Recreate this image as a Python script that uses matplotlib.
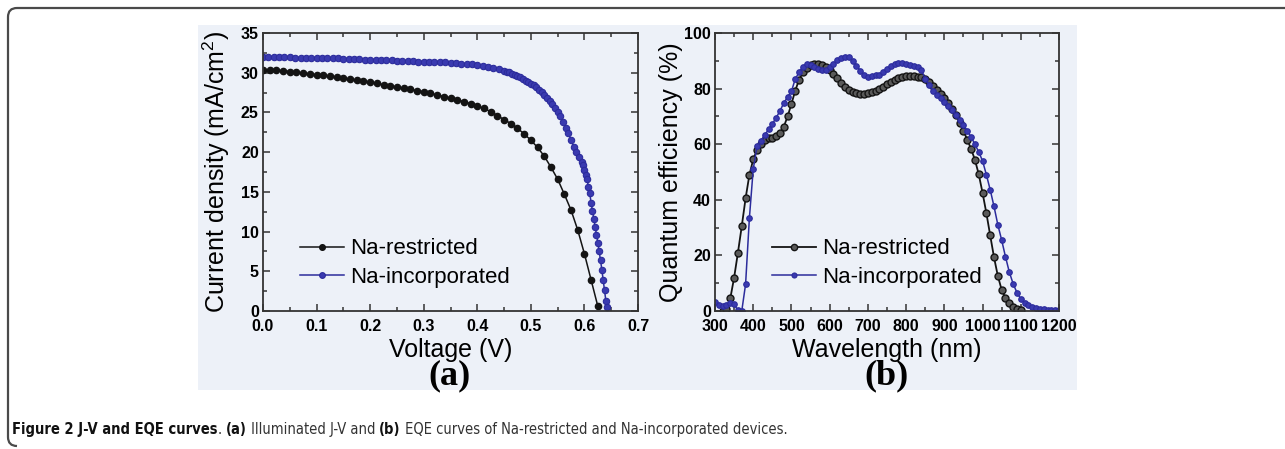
import matplotlib
matplotlib.use('Agg')
import matplotlib.pyplot as plt
from matplotlib.patches import PathPatch, Rectangle
from matplotlib.path import Path
from matplotlib.text import Annotation
from matplotlib.ticker import MultipleLocator

plt.rcParams['font.family'] = ['Liberation Sans', 'DejaVu Sans']
plt.rcParams['mathtext.default'] = 'regular'

# -- J-V data ---------------------------------
v_restricted = [0.0, 0.0125, 0.025, 0.0375, 0.05, 0.0625, 0.075, 0.0875, 0.1, 0.1125,
                0.125, 0.1375, 0.15, 0.1625, 0.175, 0.1875, 0.2, 0.2125, 0.225, 0.2375,
                0.25, 0.2625, 0.275, 0.2875, 0.3, 0.3125, 0.325, 0.3375, 0.35, 0.3625,
                0.375, 0.3875, 0.4, 0.4125, 0.425, 0.4375, 0.45, 0.4625, 0.475, 0.4875,
                0.5, 0.5125, 0.525, 0.5375, 0.55, 0.5625, 0.575, 0.5875, 0.6, 0.6125, 0.625]
j_restricted = [30.4, 30.35, 30.3, 30.25, 30.15, 30.05, 29.95, 29.85, 29.75, 29.65,
                29.55, 29.45, 29.3, 29.2, 29.05, 28.95, 28.8, 28.65, 28.5, 28.35,
                28.2, 28.05, 27.9, 27.75, 27.6, 27.4, 27.2, 27.0, 26.8, 26.6,
                26.35, 26.1, 25.8, 25.5, 25.1, 24.6, 24.1, 23.6, 23.0, 22.3,
                21.5, 20.6, 19.5, 18.1, 16.6, 14.7, 12.7, 10.2, 7.2, 3.9, 0.6]

v_incorporated = [0.0, 0.01, 0.02, 0.03, 0.04, 0.05, 0.06, 0.07, 0.08, 0.09,
                  0.1, 0.11, 0.12, 0.13, 0.14, 0.15, 0.16, 0.17, 0.18, 0.19,
                  0.2, 0.21, 0.22, 0.23, 0.24, 0.25, 0.26, 0.27, 0.28, 0.29,
                  0.3, 0.31, 0.32, 0.33, 0.34, 0.35, 0.36, 0.37, 0.38, 0.39,
                  0.4, 0.41, 0.42, 0.43, 0.44, 0.45, 0.455, 0.46, 0.465, 0.47,
                  0.475, 0.48, 0.485, 0.49, 0.495, 0.5, 0.505, 0.51, 0.515, 0.52,
                  0.525, 0.53, 0.535, 0.54, 0.545, 0.55, 0.555, 0.56, 0.565, 0.57,
                  0.575, 0.58, 0.585, 0.59, 0.595, 0.5975, 0.6, 0.6025, 0.605, 0.6075,
                  0.61, 0.6125, 0.615, 0.6175, 0.62, 0.6225, 0.625, 0.6275, 0.63, 0.6325,
                  0.635, 0.6375, 0.64, 0.6415]
j_incorporated = [32.0, 32.0, 32.0, 31.95, 31.95, 31.95, 31.9, 31.9, 31.9, 31.85,
                  31.85, 31.85, 31.8, 31.8, 31.8, 31.75, 31.75, 31.7, 31.7, 31.65,
                  31.65, 31.6, 31.6, 31.55, 31.55, 31.5, 31.5, 31.45, 31.45, 31.4,
                  31.4, 31.35, 31.35, 31.3, 31.3, 31.25, 31.2, 31.15, 31.1, 31.05,
                  30.95, 30.85, 30.75, 30.6, 30.45, 30.25, 30.15, 30.05, 29.9, 29.75,
                  29.6, 29.4, 29.2, 29.0, 28.8, 28.6, 28.4, 28.15, 27.85, 27.55,
                  27.2, 26.85, 26.5, 26.1, 25.6, 25.1, 24.5, 23.8, 23.1, 22.4,
                  21.5, 20.7, 20.0, 19.4, 18.8, 18.4, 17.8, 17.1, 16.6, 15.6,
                  14.8, 13.6, 12.6, 11.6, 10.6, 9.6, 8.6, 7.5, 6.4, 5.2,
                  3.9, 2.6, 1.3, 0.5]

# -- EQE data ---------------------------------
wl_restricted = [320, 330, 340, 350, 360, 370, 380, 390, 400, 410,
                 420, 430, 440, 450, 460, 470, 480, 490, 500, 510,
                 520, 530, 540, 550, 560, 570, 580, 590, 600, 610,
                 620, 630, 640, 650, 660, 670, 680, 690, 700, 710,
                 720, 730, 740, 750, 760, 770, 780, 790, 800, 810,
                 820, 830, 840, 850, 860, 870, 880, 890, 900, 910,
                 920, 930, 940, 950, 960, 970, 980, 990, 1000, 1010,
                 1020, 1030, 1040, 1050, 1060, 1070, 1080, 1090, 1100]
qe_restricted = [0.0, 0.8, 4.5, 12.0, 21.0, 30.5, 40.5, 49.0, 54.5, 58.0,
                 60.2, 61.6, 62.2, 62.4, 62.8, 64.0, 66.3, 70.0, 74.5, 79.3,
                 83.2, 85.8, 87.4, 88.4, 88.9, 89.0, 88.6, 87.8, 86.7, 85.3,
                 83.7, 82.1, 80.7, 79.6, 78.9, 78.4, 78.2, 78.2, 78.4, 78.8,
                 79.3, 79.9, 80.7, 81.5, 82.3, 83.1, 83.7, 84.2, 84.5, 84.7,
                 84.6, 84.3, 84.2, 83.3, 82.2, 80.9, 79.4, 78.0, 76.6, 74.8,
                 72.7, 70.4, 67.8, 64.8, 61.6, 58.3, 54.4, 49.2, 42.5, 35.2,
                 27.2, 19.3, 12.6, 7.6, 4.6, 2.8, 1.6, 0.8, 0.3]

wl_incorporated = [300, 310, 320, 330, 340, 350, 360, 370, 380, 390,
                   400, 410, 420, 430, 440, 450, 460, 470, 480, 490,
                   500, 510, 520, 530, 540, 550, 560, 570, 580, 590,
                   600, 610, 620, 630, 640, 650, 660, 670, 680, 690,
                   700, 710, 720, 730, 740, 750, 760, 770, 780, 790,
                   800, 810, 820, 830, 840, 850, 860, 870, 880, 890,
                   900, 910, 920, 930, 940, 950, 960, 970, 980, 990,
                   1000, 1010, 1020, 1030, 1040, 1050, 1060, 1070, 1080, 1090,
                   1100, 1110, 1120, 1130, 1140, 1150, 1160, 1170, 1180, 1190, 1200]
qe_incorporated = [3.2, 2.0, 1.7, 2.2, 3.0, 2.4, 0.2, 0.0, 9.6, 33.5,
                   51.0, 59.3, 61.2, 63.3, 65.3, 67.3, 69.5, 72.0, 74.8, 77.0,
                   79.0, 83.5, 85.8, 87.9, 88.8, 88.6, 87.8, 87.0, 86.6, 86.6,
                   87.6, 89.0, 90.2, 91.0, 91.4, 91.2, 90.0, 88.2, 86.5, 85.0,
                   84.0, 84.4, 84.8, 84.9, 85.9, 87.0, 88.0, 88.7, 89.1, 89.2,
                   89.0, 88.6, 88.2, 87.6, 86.6, 83.6, 81.3, 79.3, 77.8, 76.6,
                   75.3, 73.8, 72.2, 70.5, 68.7, 66.9, 64.8, 62.6, 60.0, 57.2,
                   54.0, 49.0, 43.6, 37.6, 31.0, 25.5, 19.5, 14.0, 9.8, 6.6,
                   4.4, 2.9, 2.0, 1.4, 1.1, 0.8, 0.6, 0.5, 0.3, 0.2, 0.2]

labels = ['Na-restricted', 'Na-incorporated']

panel_bg = '#edf1f8'
black = '#141414'
blue = '#2c2c9c'

W, H = 1285, 449
fig = plt.figure(figsize=(12.85, 4.49), dpi=100)


def fx(px):
    return px / W


def fy(py):
    return 1 - py / H


# frame: top rule and left rule with rounded corners
r = 9
frame = Path([(fx(W), fy(8)), (fx(8 + r), fy(8)), (fx(8), fy(8)), (fx(8), fy(8 + r)),
              (fx(8), fy(H - 3 - r)), (fx(8), fy(H - 3)), (fx(8 + r), fy(H - 3))],
             [Path.MOVETO, Path.LINETO, Path.CURVE3, Path.CURVE3,
              Path.LINETO, Path.CURVE3, Path.CURVE3])
fig.patches.append(PathPatch(frame, transform=fig.transFigure, fill=False,
                             edgecolor='#4a4a4a', linewidth=1.6, zorder=-2))
fig.patches.append(Rectangle((fx(198), fy(390)), (1077 - 198) / W, (390 - 25) / H,
                             transform=fig.transFigure, facecolor=panel_bg,
                             edgecolor='none', zorder=-1))


def style_axes(ax):
    ax.set_facecolor(panel_bg)
    for s in ax.spines.values():
        s.set_linewidth(1.3)
        s.set_color('#333333')
    ax.tick_params(which='both', direction='in', top=True, right=True,
                   width=1.1, color='#333333')
    ax.tick_params(which='major', length=5)
    ax.tick_params(which='minor', length=3)
    ax.tick_params(axis='x', pad=6)
    ax.tick_params(axis='y', pad=3)
    for lab in ax.get_xticklabels() + ax.get_yticklabels():
        lab.set_fontweight('bold')
        lab.set_fontsize(11.5)


leg_kw = dict(loc='lower left', frameon=False, fontsize=16, handlelength=2.0,
              handletextpad=0.25, labelspacing=0.35, markerscale=0.9, borderaxespad=0)

# -- (a) J-V ----------------------------------
ax1 = fig.add_axes([fx(263), fy(311), (638 - 263) / W, (311 - 33) / H])
ax1.plot(v_restricted, j_restricted, '-o', color=black, lw=1.1, ms=4.5,
         mfc=black, mec=black, label=labels[0])
ax1.plot(v_incorporated, j_incorporated, '-o', color=blue, lw=1.1, ms=4.6,
         mfc='#3a3ab0', mec=blue, mew=0.8, label=labels[1])
ax1.set_xlim(0, 0.7)
ax1.set_ylim(0, 35)
ax1.xaxis.set_minor_locator(MultipleLocator(0.05))
ax1.yaxis.set_minor_locator(MultipleLocator(2.5))
ax1.set_xticks([0, 0.1, 0.2, 0.3, 0.4, 0.5, 0.6, 0.7])
ax1.set_xticklabels(['0.0', '0.1', '0.2', '0.3', '0.4', '0.5', '0.6', '0.7'])
ax1.set_yticks([0, 5, 10, 15, 20, 25, 30, 35])
style_axes(ax1)
ax1.set_xlabel('Voltage (V)', fontsize=18, labelpad=3)
ax1.set_ylabel('Current density (mA/cm$^2$)', fontsize=18, labelpad=6)
ax1.legend(bbox_to_anchor=(0.075, 0.05), **leg_kw)

# -- (b) EQE ----------------------------------
ax2 = fig.add_axes([fx(715), fy(311), (1059 - 715) / W, (311 - 33) / H])
ax2.plot(wl_restricted, qe_restricted, '-o', color=black, lw=1.3, ms=5.0,
         mfc='#5a5a5a', mec=black, mew=1.0, label=labels[0])
ax2.plot(wl_incorporated, qe_incorporated, '-o', color=blue, lw=1.1, ms=4.0,
         mfc='#3a3ab0', mec=blue, mew=0.8, label=labels[1])
ax2.set_xlim(300, 1200)
ax2.set_ylim(0, 100)
ax2.xaxis.set_major_locator(MultipleLocator(100))
ax2.xaxis.set_minor_locator(MultipleLocator(50))
ax2.yaxis.set_major_locator(MultipleLocator(20))
ax2.yaxis.set_minor_locator(MultipleLocator(10))
style_axes(ax2)
ax2.set_xlabel('Wavelength (nm)', fontsize=18, labelpad=3)
ax2.set_ylabel('Quantum efficiency (%)', fontsize=18, labelpad=1)
ax2.legend(bbox_to_anchor=(0.14, 0.05), **leg_kw)

# panel letters
fig.text(fx(450), fy(376), '(a)', family='Liberation Serif', fontweight='bold',
         fontsize=26, ha='center', va='center')
fig.text(fx(887), fy(376), '(b)', family='Liberation Serif', fontweight='bold',
         fontsize=26, ha='center', va='center')

# caption, chained piece by piece
cap_kw = dict(family='DejaVu Sans', fontstretch='condensed', fontsize=10.5)
pieces = [('Figure 2 J-V and EQE curves', 'bold', '#111111'),
          ('. ', 'normal', '#333333'),
          ('(a)', 'bold', '#111111'),
          (' Illuminated J-V and ', 'normal', '#333333'),
          ('(b)', 'bold', '#111111'),
          (' EQE curves of Na-restricted and Na-incorporated devices.', 'normal', '#333333')]
anchor = fig.text(fx(12), fy(437), pieces[0][0], fontweight=pieces[0][1],
                  color=pieces[0][2], ha='left', va='bottom', **cap_kw)
for txt, wt, col in pieces[1:]:
    anchor = fig.add_artist(Annotation(txt, xy=(1, 0), xycoords=anchor, va='bottom',
                                       ha='left', fontweight=wt, color=col, **cap_kw))

fig.savefig('out.png', dpi=100)
